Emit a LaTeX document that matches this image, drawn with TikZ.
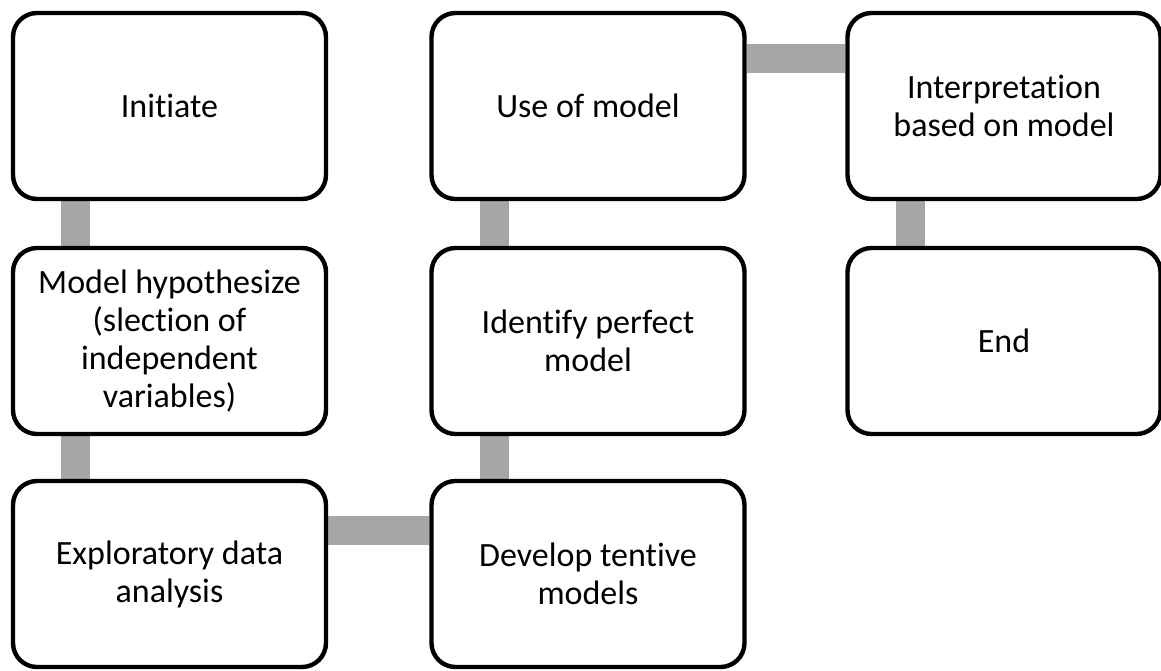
\documentclass[tikz,border=0pt]{standalone}
\usepackage{fontspec}
\setmainfont[Ligatures={NoCommon,NoContextual}, RawFeature={-calt}]{Carlito}
\usetikzlibrary{backgrounds}
\definecolor{linkgray}{HTML}{A6A6A6}
\tikzset{
  stepbox/.style={draw, line width=2.2pt, rounded corners=12pt, fill=white, align=center,
    minimum width=156.5pt, minimum height=93pt, inner sep=0pt,
    font=\fontsize{17}{19}\selectfont},
  link/.style={draw=linkgray, line width=14.5pt}
}
\begin{document}
\begin{tikzpicture}[x=0.5pt, y=-0.5pt]
	\useasboundingbox (0,0) rectangle (1161,670);

	\node[stepbox] (init) at (169.5,106) {Initiate};
	\node[stepbox] (hypo) at (169.5,341) {Model hypothesize\\(slection of\\independent\\variables)};
	\node[stepbox] (explore) at (169.5,574) {Exploratory data\\analysis};
	\node[stepbox] (develop) at (588,574) {Develop tentive\\models};
	\node[stepbox] (ident) at (588,341) {Identify perfect\\model};
	\node[stepbox] (use) at (588,106) {Use of model};
	\node[stepbox] (interp) at (1004,106) {Interpretation\\based on model};
	\node[stepbox] (end) at (1004,341) {End};

	\begin{scope}[on background layer]
		\draw[link] ([xshift=32.5pt]init.south west) -- ([xshift=32.5pt]hypo.north west); % init - hypo
		\draw[link] ([xshift=32.5pt]hypo.south west) -- ([xshift=32.5pt]explore.north west); % hypo - explore
		\draw[link] ([yshift=22pt]explore.east) -- ([yshift=22pt]develop.west); % explore - develop
		\draw[link] ([xshift=32.5pt]develop.north west) -- ([xshift=32.5pt]ident.south west); % develop - ident
		\draw[link] ([xshift=32.5pt]ident.north west) -- ([xshift=32.5pt]use.south west); % ident - use
		\draw[link] ([yshift=24pt]use.east) -- ([yshift=24pt]interp.west); % use - interp
		\draw[link] ([xshift=32.5pt]interp.south west) -- ([xshift=32.5pt]end.north west); % interp - end
	\end{scope}
\end{tikzpicture}
\end{document}
